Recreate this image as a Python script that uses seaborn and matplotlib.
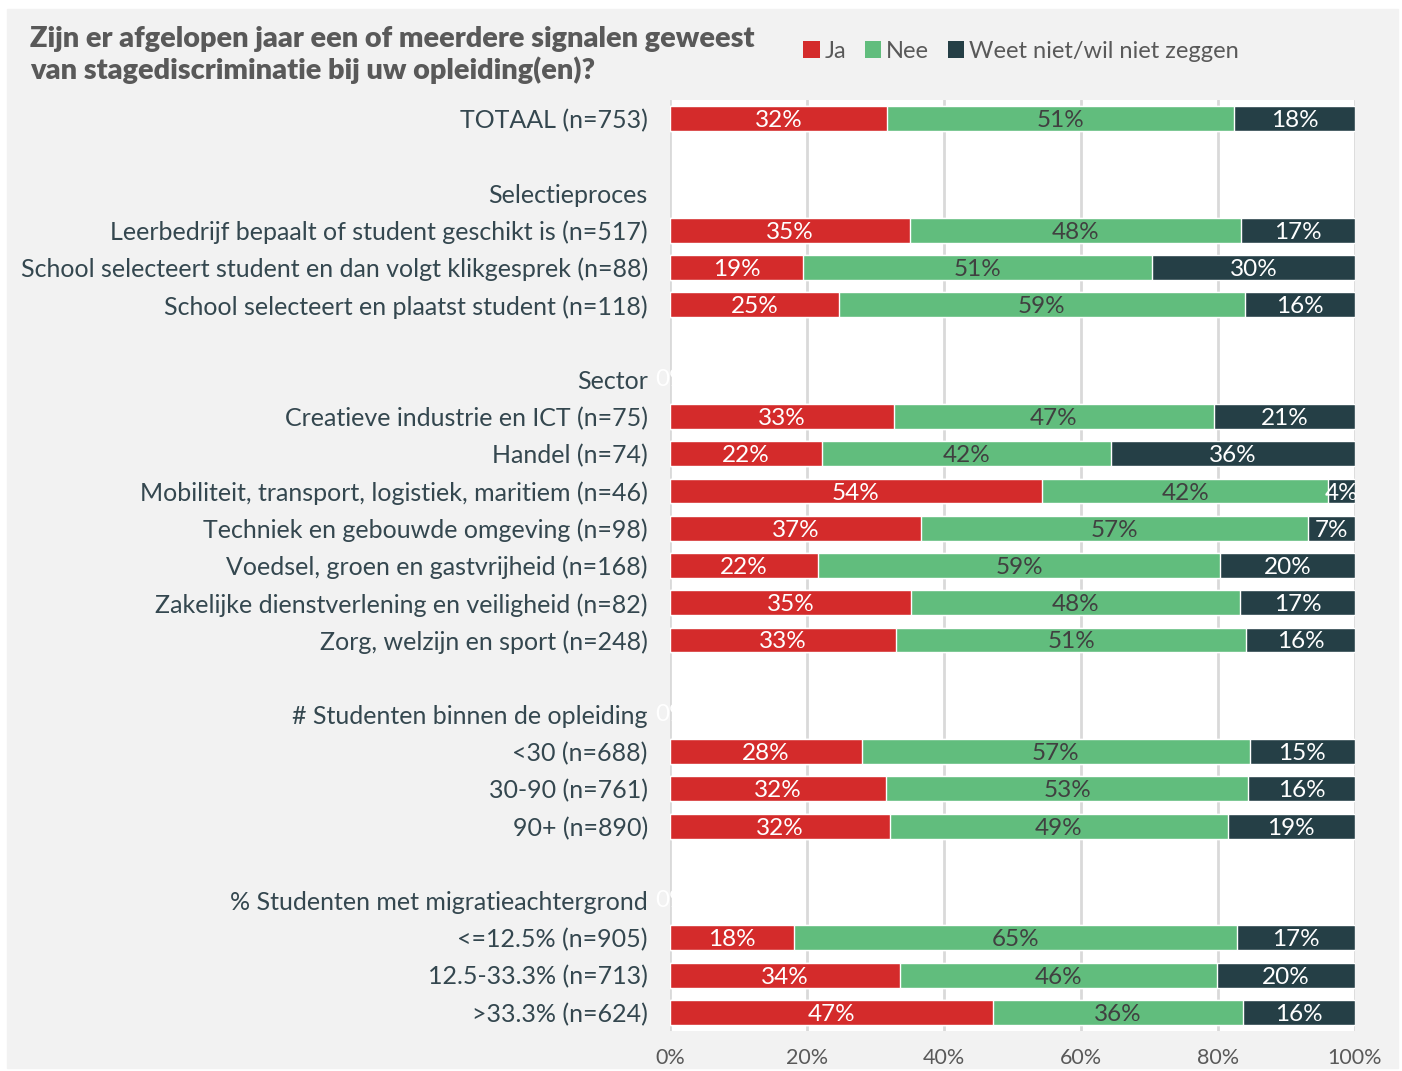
import numpy as np
import pandas as pd
import matplotlib
matplotlib.use("Agg")
import matplotlib.pyplot as plt
from matplotlib.patches import Patch, Rectangle
import seaborn as sns

# %%
rows = [
    "TOTAAL (n=753)", " ",
    "Selectieproces",
    "Leerbedrijf bepaalt of student geschikt is (n=517)",
    "School selecteert student en dan volgt klikgesprek (n=88)",
    "School selecteert en plaatst student (n=118)", "  ",
    "Sector",
    "Creatieve industrie en ICT (n=75)",
    "Handel (n=74)",
    "Mobiliteit, transport, logistiek, maritiem (n=46)",
    "Techniek en gebouwde omgeving (n=98)",
    "Voedsel, groen en gastvrijheid (n=168)",
    "Zakelijke dienstverlening en veiligheid (n=82)",
    "Zorg, welzijn en sport (n=248)", "   ",
    "# Studenten binnen de opleiding",
    "<30 (n=688)", "30-90 (n=761)", "90+ (n=890)", "    ",
    "% Studenten met migratieachtergrond",
    "<=12.5% (n=905)", "12.5-33.3% (n=713)", ">33.3% (n=624)",
]
headers_with_zero = ["Sector", "# Studenten binnen de opleiding",
                     "% Studenten met migratieachtergrond"]

bar_labels = [
    "TOTAAL (n=753)",
    "Leerbedrijf bepaalt of student geschikt is (n=517)",
    "School selecteert student en dan volgt klikgesprek (n=88)",
    "School selecteert en plaatst student (n=118)",
    "Creatieve industrie en ICT (n=75)",
    "Handel (n=74)",
    "Mobiliteit, transport, logistiek, maritiem (n=46)",
    "Techniek en gebouwde omgeving (n=98)",
    "Voedsel, groen en gastvrijheid (n=168)",
    "Zakelijke dienstverlening en veiligheid (n=82)",
    "Zorg, welzijn en sport (n=248)",
    "<30 (n=688)", "30-90 (n=761)", "90+ (n=890)",
    "<=12.5% (n=905)", "12.5-33.3% (n=713)", ">33.3% (n=624)",
]
ja = [31.7, 35.1, 19.4, 24.6, 32.7, 22.2, 54.3, 36.6, 21.6, 35.2, 33.0,
      28.0, 31.6, 32.1, 18.1, 33.6, 47.2]
nee = [50.6, 48.2, 51.0, 59.3, 46.7, 42.2, 41.8, 56.6, 58.7, 48.0, 51.1,
       56.6, 52.8, 49.3, 64.7, 46.3, 36.4]
weet = [17.7, 16.7, 29.6, 16.1, 20.6, 35.6, 3.9, 6.8, 19.7, 16.8, 15.9,
        15.4, 15.6, 18.6, 17.2, 20.1, 16.4]

series = ["Ja", "Nee", "Weet niet/wil niet zeggen"]
colors = ["#d42b2b", "#61bd7d", "#253f46"]
text_colors = ["white", "#404040", "white"]

# %%
sns.set_style("white")
plt.rcParams["font.family"] = ["Lato", "DejaVu Sans"]

df = pd.DataFrame({"label": bar_labels, "Ja": ja, "Nee": nee,
                   "Weet niet/wil niet zeggen": weet})
df["c1"] = df["Ja"]
df["c2"] = df["Ja"] + df["Nee"]
df["c3"] = df["c2"] + df["Weet niet/wil niet zeggen"]

W, H = 1402, 1071
fig = plt.figure(figsize=(W / 100, H / 100), dpi=100, facecolor="white")
fig.patches.append(Rectangle((7 / W, 3 / H), 1391 / W, 1059 / H,
                             transform=fig.transFigure, color="#f2f2f2",
                             zorder=-10))

ax = fig.add_axes([670 / W, 1 - 1031 / H, 685 / W, 931 / H])
ax.set_facecolor("white")

# stacked: draw cumulative layers back to front
for col, c in zip(["c3", "c2", "c1"], colors[::-1]):
    sns.barplot(data=df, x=col, y="label", order=rows, color=c,
                saturation=1, width=0.67, errorbar=None, ax=ax, zorder=3)

for i, r in df.iterrows():
    y = rows.index(r["label"])
    left = 0
    for s, tc in zip(series, text_colors):
        v = r[s]
        ax.text(left + v / 2, y, f"{v:.0f}%", ha="center",
                va="center_baseline", color=tc, fontsize=17.5, zorder=5,
                clip_on=False)
        left += v

for h in headers_with_zero:
    ax.text(-2.2, rows.index(h), "0%", ha="left", va="center",
            color="white", fontsize=17.5, clip_on=False, zorder=1)

ax.set_xlim(0, 100)
ax.set_ylim(len(rows) - 0.5, -0.5)
ax.set_xticks(np.arange(0, 101, 20))
ax.set_xticklabels([f"{t}%" for t in range(0, 101, 20)])
ax.set_axisbelow(True)
ax.grid(axis="x", color="#d9d9d9", lw=2, zorder=0)
ax.grid(axis="y", visible=False)
for sp in ax.spines.values():
    sp.set_visible(False)
ax.set_xlabel("")
ax.set_ylabel("")
ax.tick_params(axis="y", length=0, pad=16, labelsize=18, labelcolor="#34474f")
ax.tick_params(axis="x", length=0, pad=12, labelsize=15.5, labelcolor="#595959")

fig.text(30 / W, 1 - 55 / H,
         "Zijn er afgelopen jaar een of meerdere signalen geweest\n"
         "van stagediscriminatie bij uw opleiding(en)?",
         ha="left", va="center", fontsize=20.8, fontweight="heavy",
         color="#595959", linespacing=1.16)

handles = [Patch(facecolor=c, edgecolor="none") for c in colors]
fig.legend(handles, series, loc="center left",
           bbox_to_anchor=(803 / W, 1 - 51 / H), ncol=3, frameon=False,
           fontsize=17, labelcolor="#595959", handlelength=0.7,
           handleheight=0.7, handletextpad=0.2, columnspacing=0.8,
           borderpad=0, borderaxespad=0)

fig.savefig("out.png", dpi=100, facecolor="white")
